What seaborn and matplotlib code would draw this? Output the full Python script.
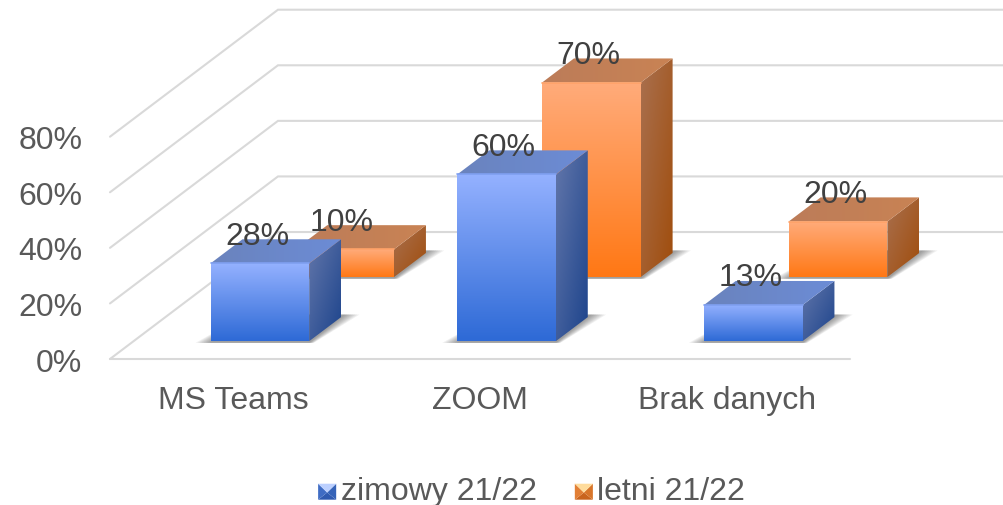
import matplotlib
matplotlib.use("Agg")
import matplotlib.pyplot as plt
from matplotlib.colors import to_rgb
from matplotlib.legend_handler import HandlerBase
from matplotlib.patches import Patch, Polygon
import numpy as np
import pandas as pd
import seaborn as sns

categories = ["MS Teams", "ZOOM", "Brak danych"]
zimowy = [28, 60, 13]
letni = [10, 70, 20]
seasons = ["zimowy 21/22", "letni 21/22"]
y_ticks = [0, 20, 40, 60, 80]

# depth of the box in data units (x in category steps, y in percent)
DX = 0.681
DY = 45.7
PX_X = 1 / 246.67
SHIFT_X = 3 * PX_X
SLOTS = {"zimowy 21/22": 0.14, "letni 21/22": 0.645}
SLOT_D = 0.19

# front top, front bottom, side light, side dark, top left, top right, edge
BLUE = ["#94b1ff", "#2e6ad6", "#6276aa", "#1d448c", "#6a83bd", "#6c8cd6", "#7f9ff0"]
ORANGE = ["#ffab7a", "#ff7815", "#a9704f", "#a04d0c", "#bc7c59", "#c98354", "#ffa268"]
COLORS = {"zimowy 21/22": BLUE, "letni 21/22": ORANGE}
GRID = "#d9d9d9"

sns.set_theme(style="white")
plt.rcParams["font.family"] = ["Liberation Sans", "DejaVu Sans"]

df = pd.DataFrame({
    "category": categories * 2,
    "season": [seasons[0]] * 3 + [seasons[1]] * 3,
    "value": zimowy + letni,
})

fig = plt.figure(figsize=(10.04, 5.06), dpi=100)
ax = fig.add_axes([110 / 1004, 146 / 506, 740 / 1004, 222.3 / 506])
sns.barplot(data=df, x="category", y="value", hue="season", hue_order=seasons,
            order=categories, dodge=False, width=0.4, legend=False, ax=ax)
ax.set_xlim(-0.5, 2.5)
ax.set_ylim(0, 80)
ax.set_autoscale_on(False)


def proj(x, v, d):
    return (x + d * DX, v + d * DY)


def grad_fill(pts, img, zorder):
    # gradient image cut to the shape of a polygon
    pts = np.array(pts)
    poly = Polygon(pts, closed=True, fc="none", ec="none", transform=ax.transData, zorder=zorder)
    ax.add_patch(poly)
    poly.set_clip_on(False)
    im = ax.imshow(img, extent=(pts[:, 0].min(), pts[:, 0].max(), pts[:, 1].min(), pts[:, 1].max()),
                   origin="upper", aspect="auto", interpolation="bilinear", zorder=zorder)
    # the image has to reach past the axes box, the walls are above it
    im.set_clip_box(fig.bbox)
    im.set_clip_path(poly)


def ramp(c1, c2, rows, cols):
    # rows/cols say which way the colour runs
    v = np.linspace(0, 1, rows)[:, None]
    u = np.linspace(0, 1, cols)[None, :]
    t = (v + u) / ((1 if rows > 1 else 0) + (1 if cols > 1 else 0))
    a, b = np.array(to_rgb(c1)), np.array(to_rgb(c2))
    return a[None, None, :] * (1 - t[:, :, None]) + b[None, None, :] * t[:, :, None]


# grid: left wall diagonals, back wall lines, front floor line
for v in y_ticks:
    x0, y0 = proj(-0.5, v, 0)
    x1, y1 = proj(-0.5, v, 1)
    x2, y2 = proj(2.5, v, 1)
    ax.plot([x0, x1, x2], [y0, y1, y2], color=GRID, lw=1.5, zorder=0.5, clip_on=False,
            solid_joinstyle="miter")
ax.plot([-0.5, 2.5], [0, 0], color=GRID, lw=1.5, zorder=0.5, clip_on=False)

for container, season in zip(ax.containers, seasons):
    d0 = SLOTS[season]
    d1 = d0 + SLOT_D
    col = COLORS[season]
    base = 2 if season == seasons[1] else 3
    for bar in container:
        x0 = bar.get_x() + SHIFT_X
        x1 = x0 + bar.get_width()
        v = bar.get_height()

        # soft floor shadow, stacked layers
        for e in np.arange(15, 0, -2.0):
            s = e * PX_X
            pts = [proj(x0 - s, -0.6, d0), proj(x1 + s * 0.3, -0.6, d0),
                   proj(x1 + s, 0, d1 + 0.02), proj(x0, 0, d1 + 0.02)]
            ax.add_patch(Polygon(pts, fc="#303030", ec="none", alpha=0.07, zorder=base - 0.5,
                                 clip_on=False))

        # front face goes through the seaborn bar itself
        fx, fy = proj(x0, 0, d0)
        bar.set_x(fx)
        bar.set_y(fy)
        bar.set_facecolor(col[1])
        bar.set_edgecolor("none")
        bar.set_zorder(base)
        bar.set_clip_on(False)
        front = [proj(x0, 0, d0), proj(x1, 0, d0), proj(x1, v, d0), proj(x0, v, d0)]
        grad_fill(front, ramp(col[0], col[1], 64, 1), base + 0.1)
        ax.plot([front[3][0], front[2][0]], [front[3][1], front[2][1]], color=col[6], lw=1.2,
                zorder=base + 0.2, clip_on=False)

        side = [proj(x1, 0, d0), proj(x1, 0, d1), proj(x1, v, d1), proj(x1, v, d0)]
        grad_fill(side, ramp(col[2], col[3], 64, 32), base + 0.1)

        top = [proj(x0, v, d0), proj(x1, v, d0), proj(x1, v, d1), proj(x0, v, d1)]
        grad_fill(top, ramp(col[4], col[5], 1, 64), base + 0.15)

        ax.annotate(f"{v:.0f}%", xy=(0.5 * (front[0][0] + front[1][0]), front[2][1]),
                    xytext=(-2, 20), textcoords="offset points", ha="center", va="center",
                    fontsize=23, color="#404040", zorder=10, annotation_clip=False)

ax.set_xlim(-0.5, 2.5)
ax.set_ylim(0, 80)
ax.set_xticks(range(len(categories)), categories)
ax.set_yticks(y_ticks, [f"{t}%" for t in y_ticks])
ax.set_xlabel("")
ax.set_ylabel("")
ax.tick_params(axis="x", length=0, pad=19, labelsize=23, labelcolor="#595959")
ax.tick_params(axis="y", length=0, pad=20, labelsize=23, labelcolor="#595959")
ax.patch.set_alpha(0)
sns.despine(ax=ax, left=True, bottom=True)


class SquareHandler(HandlerBase):
    def __init__(self, cols):
        super().__init__()
        self.cols = cols

    def create_artists(self, legend, orig_handle, xdescent, ydescent, width, height, fontsize, trans):
        x0, y0 = -xdescent + 1, -ydescent - 0.5
        w, h = 13, 11.5
        c = (x0 + w / 2, y0 + h * 0.45)
        a, b, e, f = (x0, y0), (x0 + w, y0), (x0 + w, y0 + h), (x0, y0 + h)
        out = []
        for tri, fc in [((a, b, c), self.cols[1]), ((b, e, c), self.cols[3]),
                        ((a, f, c), self.cols[2]), ((f, e, c), self.cols[0])]:
            out.append(Polygon(tri, closed=True, fc=fc, ec="none", transform=trans))
        return out


h1 = Patch(label=seasons[0])
h2 = Patch(label=seasons[1])
BLUE_KEY = ["#bcd0ff", "#2f5ab0", "#3f6cc4", "#3563b8"]
ORANGE_KEY = ["#ffdc9c", "#c9641e", "#e27f35", "#d8752a"]
fig.legend(handles=[h1, h2], loc="center", bbox_to_anchor=(531 / 1004, 1 - 492 / 506),
           ncol=2, frameon=False, fontsize=23, labelcolor="#595959",
           handlelength=0.6, handletextpad=0.15, columnspacing=1.15,
           handler_map={h1: SquareHandler(BLUE_KEY), h2: SquareHandler(ORANGE_KEY)})

fig.savefig("out.png", dpi=100)
